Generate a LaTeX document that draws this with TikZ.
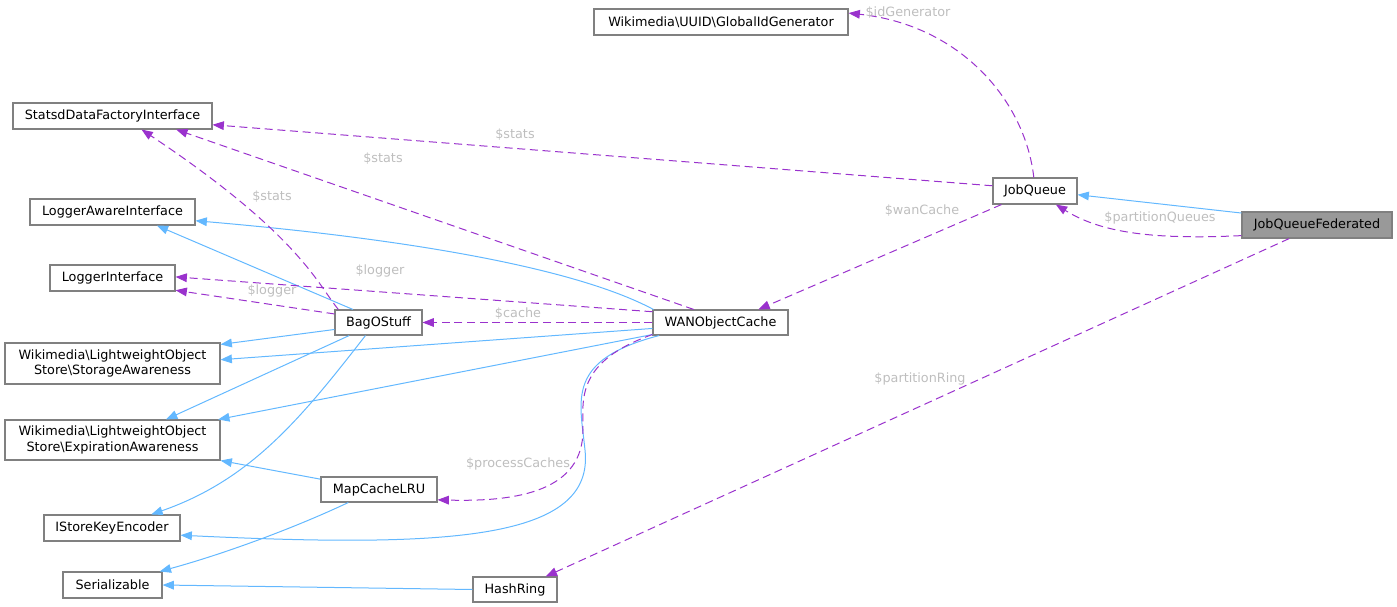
\documentclass[tikz,border=0pt]{standalone}
\usepackage{fontspec}
\setmainfont{DejaVu Sans}
\usetikzlibrary{arrows.meta}
\definecolor{blue1}{HTML}{63B8FF}
\definecolor{purple1}{HTML}{9A32CD}
\definecolor{gray1}{HTML}{808080}
\definecolor{gray2}{HTML}{999999}
\definecolor{gray3}{HTML}{BEBEBE}
\newcommand{\bs}{\textbackslash}

\begin{document}
\begin{tikzpicture}[x=0.75pt,y=-0.75pt,>={Triangle[length=8.5pt,width=6.5pt]},
    cls/.style={draw=gray1,line width=0.8pt,inner sep=0pt,align=center,font=\fontsize{9.6}{11.8}\selectfont},
    inh/.style={->,draw=blue1,line width=0.75pt},
    usage/.style={->,draw=purple1,line width=0.75pt,dash pattern=on 6pt off 3.5pt},
    lbl/.style={text=gray3,font=\fontsize{9.6}{11}\selectfont}]
    \path (0,0) rectangle (1397,607);

    \node[cls,minimum width=254*0.75pt,minimum height=26*0.75pt] (gid) at (721,22) {Wikimedia\bs UUID\bs GlobalIdGenerator};
    \node[cls,minimum width=199*0.75pt,minimum height=26*0.75pt] (statsd) at (112.5,116) {StatsdDataFactoryInterface};
    \node[cls,minimum width=165*0.75pt,minimum height=26*0.75pt] (lai) at (112.5,212) {LoggerAwareInterface};
    \node[cls,minimum width=125*0.75pt,minimum height=26*0.75pt] (li) at (112.5,278) {LoggerInterface};
    \node[cls,minimum width=87*0.75pt,minimum height=25*0.75pt] (bag) at (378.5,322.5) {BagOStuff};
    \node[cls,minimum width=135*0.75pt,minimum height=25*0.75pt] (wan) at (720.5,322.5) {WANObjectCache};
    \node[cls,minimum width=215*0.75pt,minimum height=41*0.75pt] (sa) at (112.5,363.5) {Wikimedia\bs LightweightObject\\Store\bs StorageAwareness};
    \node[cls,minimum width=215*0.75pt,minimum height=40*0.75pt] (ea) at (112.5,440) {Wikimedia\bs LightweightObject\\Store\bs ExpirationAwareness};
    \node[cls,minimum width=116*0.75pt,minimum height=25*0.75pt] (mcl) at (379,489.5) {MapCacheLRU};
    \node[cls,minimum width=136*0.75pt,minimum height=26*0.75pt] (iske) at (112,528) {IStoreKeyEncoder};
    \node[cls,minimum width=99*0.75pt,minimum height=26*0.75pt] (ser) at (112.5,585) {Serializable};
    \node[cls,minimum width=84*0.75pt,minimum height=25*0.75pt] (hr) at (515,589.5) {HashRing};
    \node[cls,minimum width=84*0.75pt,minimum height=26*0.75pt] (jq) at (1035,191) {JobQueue};
    \node[cls,fill=gray2,minimum width=150*0.75pt,minimum height=26*0.75pt] (jqf) at (1317,225) {JobQueueFederated};

    \draw[inh] (jqf.171) -- (jq.-5);
    \draw[inh] (bag.153) -- (lai.-17);
    \draw[inh] (wan.169) .. controls (580,270) and (420,240) .. (lai.-6);
    \draw[inh] (bag.189) -- (sa.10);
    \draw[inh] (wan.185) -- (sa.2);
    \draw[inh] (bag.204) -- (ea.21);
    \draw[inh] (wan.190) -- (ea.11);
    \draw[inh] (bag.225) .. controls (300,420) and (250,480) .. (iske.19);
    \draw[inh] (wan.192) .. controls (565,360) and (580,400) .. (585,450) .. controls (595,540) and (450,548) .. (iske.-6);
    \draw[inh] (mcl.170) -- (ea.south east);
    \draw[inh] (mcl.203) .. controls (290,530) and (220,555) .. (ser.16);
    \draw[inh] (hr.west) -- (ser.east);

    \draw[usage] (jq.95) .. controls (1025,100) and (960,25) .. (gid.4);
    \node[lbl] (l1) at (908,13) {\$idGenerator};
    \draw[usage] (jq.173) -- (statsd.-5);
    \node[lbl] (l2) at (515,135) {\$stats};
    \draw[usage] (wan.154) -- (statsd.-12);
    \node[lbl] (l3) at (383,159) {\$stats};
    \draw[usage] (bag.162) .. controls (318,285) and (300,235) .. (statsd.-25);
    \node[lbl] (l4) at (272,197) {\$stats};
    \draw[usage] (jq.202) -- (wan.19);
    \node[lbl] (l5) at (922,211) {\$wanCache};
    \draw[usage] (jqf.188) .. controls (1150,240) and (1100,232) .. (jq.-33);
    \node[lbl] (l6) at (1160,218) {\$partitionQueues};
    \draw[usage] (jqf.206) -- (hr.23);
    \node[lbl] (l7) at (920,379) {\$partitionRing};
    \draw[usage] (wan.171) -- (li.1);
    \node[lbl] (l8) at (380,271) {\$logger};
    \draw[usage] (bag.169) -- (li.-11);
    \node[lbl] (l9) at (272,291) {\$logger};
    \draw[usage] (wan.west) -- (bag.east);
    \node[lbl] (l10) at (518,314) {\$cache};
    \draw[usage] (wan.190) .. controls (575,362) and (583,400) .. (583,430) .. controls (583,490) and (520,502) .. (mcl.-10);
    \node[lbl] (l11) at (518,464) {\$processCaches};

  \end{tikzpicture}
\end{document}
